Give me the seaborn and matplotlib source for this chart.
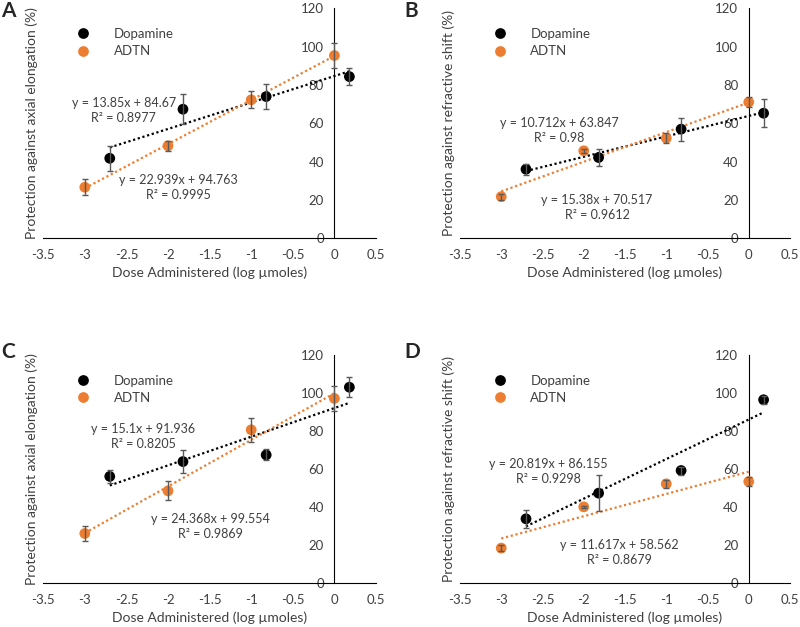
import pandas as pd
import numpy as np
import matplotlib
matplotlib.use("Agg")
import matplotlib.pyplot as plt
from matplotlib.ticker import FuncFormatter, MultipleLocator
import seaborn as sns

sns.set_style("white")
plt.rcParams["font.family"] = ["Lato", "DejaVu Sans"]
plt.rcParams["axes.unicode_minus"] = False

# doses (log umoles)
dopa_x = [-2.7, -1.82, -0.82, 0.18]
adtn_x = [-3, -2, -1, 0]

panel_labels = ["A", "B", "C", "D"]
y_titles = [
    "Protection against axial elongation (%)",
    "Protection against refractive shift (%)",
    "Protection against axial elongation (%)",
    "Protection against refractive shift (%)",
]

# means and error bars
dopa_a = [41.7, 67.3, 73.9, 84.3]
dopa_a_err = [6.5, 7.7, 6.6, 4.5]
adtn_a = [26.6, 48.2, 72.2, 95.3]
adtn_a_err = [4.2, 2.7, 4.5, 6.7]

dopa_b = [36.0, 42.1, 56.9, 65.2]
dopa_b_err = [2.8, 4.2, 6.0, 7.2]
adtn_b = [21.7, 45.6, 52.2, 71.0]
adtn_b_err = [1.5, 1.0, 2.5, 2.5]

dopa_c = [56.1, 63.9, 67.4, 103.0]
dopa_c_err = [3.6, 6.0, 2.9, 5.2]
adtn_c = [26.1, 48.5, 80.6, 97.1]
adtn_c_err = [3.8, 5.0, 6.4, 6.8]

dopa_d = [33.8, 47.3, 59.2, 96.4]
dopa_d_err = [4.6, 9.3, 2.1, 2.2]
adtn_d = [18.4, 40.1, 52.2, 53.4]
adtn_d_err = [1.5, 0.5, 2.0, 2.4]

# trendline equations as printed
dopa_eq = ["y = 13.85x + 84.67\nR² = 0.8977", "y = 10.712x + 63.847\nR² = 0.98",
           "y = 15.1x + 91.936\nR² = 0.8205", "y = 20.819x + 86.155\nR² = 0.9298"]
adtn_eq = ["y = 22.939x + 94.763\nR² = 0.9995", "y = 15.38x + 70.517\nR² = 0.9612",
           "y = 24.368x + 99.554\nR² = 0.9869", "y = 11.617x + 58.562\nR² = 0.8679"]
dopa_eq_pos = [(-2.53, 66.8), (-2.30, 56.1), (-2.30, 76.9), (-2.43, 58.6)]
adtn_eq_pos = [(-1.87, 26.4), (-1.84, 16.3), (-1.49, 29.8), (-1.57, 16.0)]

dopa_y = [dopa_a, dopa_b, dopa_c, dopa_d]
dopa_err = [dopa_a_err, dopa_b_err, dopa_c_err, dopa_d_err]
adtn_y = [adtn_a, adtn_b, adtn_c, adtn_d]
adtn_err = [adtn_a_err, adtn_b_err, adtn_c_err, adtn_d_err]

colors = {"Dopamine": "black", "ADTN": "#ED7D31"}
grey = "#595959"

fig = plt.figure(figsize=(8, 6.27), dpi=100)
rects = [(0.054, 0.620, 0.416, 0.367), (0.575, 0.620, 0.4125, 0.367),
         (0.054, 0.070, 0.416, 0.364), (0.575, 0.070, 0.4125, 0.364)]
label_pos = [(0.002, 0.998), (0.505, 0.998), (0.002, 0.455), (0.505, 0.455)]

for i in range(4):
    ax = fig.add_axes(rects[i])
    df = pd.DataFrame({
        "dose": dopa_x + adtn_x,
        "protection": dopa_y[i] + adtn_y[i],
        "compound": ["Dopamine"] * 4 + ["ADTN"] * 4,
    })
    for name in ["Dopamine", "ADTN"]:
        sub = df[df["compound"] == name]
        sns.regplot(data=sub, x="dose", y="protection", ax=ax, scatter=False,
                    ci=None, truncate=True, color=colors[name],
                    line_kws=dict(ls=(0, (1, 1.2)), lw=1.6, zorder=2))
    sns.scatterplot(data=df, x="dose", y="protection", hue="compound",
                    palette=colors, s=60, linewidth=0, ax=ax, zorder=3)
    ax.errorbar(dopa_x, dopa_y[i], yerr=dopa_err[i], fmt="none", ecolor=grey,
                elinewidth=1, capsize=2.5, capthick=1, zorder=4)
    ax.errorbar(adtn_x, adtn_y[i], yerr=adtn_err[i], fmt="none", ecolor=grey,
                elinewidth=1, capsize=2.5, capthick=1, zorder=4)

    for t, (ex, ey) in zip([dopa_eq[i], adtn_eq[i]], [dopa_eq_pos[i], adtn_eq_pos[i]]):
        ax.text(ex, ey, t, ha="center", va="center", fontsize=9, color="#404040",
                linespacing=1.3)

    ax.set_xlim(-3.5, 0.5)
    ax.set_ylim(0, 120)
    ax.xaxis.set_major_locator(MultipleLocator(0.5))
    ax.yaxis.set_major_locator(MultipleLocator(20))
    ax.xaxis.set_major_formatter(FuncFormatter(lambda v, p: f"{v:g}"))
    for s in ["top", "right"]:
        ax.spines[s].set_visible(False)
    ax.spines["left"].set_position(("data", 0))
    ax.spines["left"].set_color("black")
    ax.spines["bottom"].set_color("black")
    ax.tick_params(axis="both", labelsize=9.5, labelcolor="#404040", direction="out",
                   length=4, width=1, color="black")
    ax.tick_params(axis="x", pad=4)
    ax.set_xlabel("Dose Administered (log µmoles)", fontsize=10, color="#404040",
                  labelpad=4)
    ax.set_ylabel(y_titles[i], fontsize=10, color="#404040")
    ax.yaxis.set_label_coords(-0.015, 0.5)

    sns.move_legend(ax, "upper left", bbox_to_anchor=(0.045, 0.965), frameon=False,
                    title=None, fontsize=9.5, labelcolor="#404040",
                    handletextpad=1.3, labelspacing=0.4)
    fig.text(*label_pos[i], panel_labels[i], fontsize=15, fontweight="bold",
             ha="left", va="top")

fig.savefig("out.png", dpi=100)
